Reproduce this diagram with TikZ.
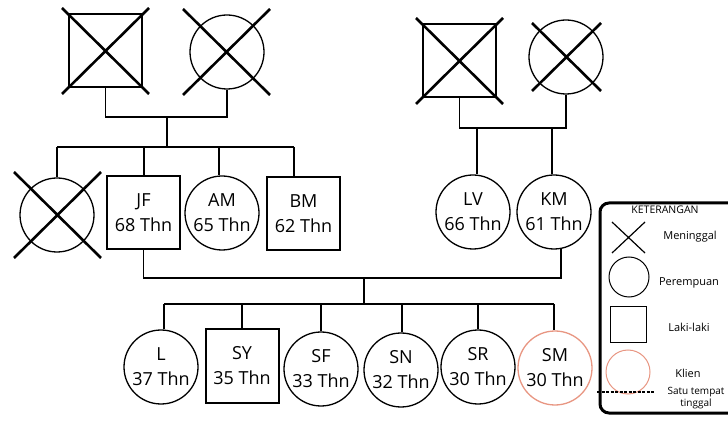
\documentclass[tikz,border=0pt]{standalone}
\usepackage{fontspec}
\setmainfont{Open Sans}
\definecolor{klien}{RGB}{232,150,130}
\begin{document}
\begin{tikzpicture}[x=1pt,y=-1pt,
  fem/.style={circle, draw, line width=1.3pt, minimum size=74pt, inner sep=0pt, align=center, font=\fontsize{18}{25}\selectfont},
  mal/.style={rectangle, draw, line width=2pt, minimum size=73pt, inner sep=0pt, align=center, font=\fontsize{18}{25}\selectfont},
  cl/.style={fem, draw=klien},
  xline/.style={line width=2.6pt},
  conn/.style={line width=1.4pt},
  lgtext/.style={font=\fontsize{11}{13}\selectfont, align=center, inner sep=0pt}]
\useasboundingbox (0,0) rectangle (728,427);
% generation 1
\node[mal] (gf1) at (105.5,51) {};
\node[fem] (gm1) at (227,52) {};
\node[mal] (gf2) at (459.5,61) {};
\node[fem] (gm2) at (566,57) {};
\draw[xline] (62,8) -- (149,94) (62,94) -- (149,8);
\draw[xline] (183,9) -- (270,95) (183,95) -- (270,9);
\draw[xline] (416,18) -- (503,104) (416,104) -- (503,18);
\draw[xline] (532,23) -- (601,91) (532,91) -- (601,23);
% generation 2
\node[fem] (d1) at (57,215) {};
\draw[xline] (14,172) -- (101,258) (14,258) -- (101,172);
\node[mal] (jf) at (143.5,213) {JF\\68 Thn};
\node[fem] (am) at (222,213) {AM\\65 Thn};
\node[mal] (bm) at (303.5,213.5) {BM\\62 Thn};
\node[fem] (lv) at (473,212) {LV\\66 Thn};
\node[fem] (km) at (554,212) {KM\\61 Thn};
% generation 3
\node[fem] (l) at (161,367) {L\\37 Thn};
\node[mal] (sy) at (242,366) {SY\\35 Thn};
\node[fem] (sf) at (321,369) {SF\\33 Thn};
\node[fem] (sn) at (401,370) {SN\\32 Thn};
\node[fem] (sr) at (478,367) {SR\\30 Thn};
\node[cl] (sm) at (555,368) {SM\\30 Thn};
% connectors family 1
\coordinate (c1) at (167,117);
\coordinate (s1) at (167,147);
\draw[conn] (gf1.south) |- (c1) -| (gm1.south);
\draw[conn] (c1) -- (s1);
\coordinate (b1) at (57,147);
\coordinate (b2) at (144,147);
\coordinate (b3) at (219,147);
\coordinate (b4) at (294,147);
\draw[conn] (b1) -- (b4);
\draw[conn] (b1) -- (b1 |- d1.north);
\draw[conn] (b2) -- (b2 |- jf.north);
\draw[conn] (b3) -- (b3 |- am.north);
\draw[conn] (b4) -- (b4 |- bm.north);
% connectors family 2
\coordinate (c2) at (477,128);
\coordinate (c3) at (552,128);
\draw[conn] (gf2.south) |- (c2) -- (c3) -| (gm2.south);
\draw[conn] (c2) -- (c2 |- lv.north);
\draw[conn] (c3) -- (c3 |- km.north);
% marriage JF - KM
\coordinate (m3) at (364,278);
\coordinate (s3) at (364,304);
\draw[conn] (jf.south) |- (m3) -| (km.-79);
\draw[conn] (m3) -- (s3);
\coordinate (k1) at (164,304);
\coordinate (k2) at (242,304);
\coordinate (k3) at (321,304);
\coordinate (k4) at (402,304);
\coordinate (k5) at (478,304);
\coordinate (k6) at (554,304);
\draw[conn] (k1) -- (k6);
\draw[conn] (k1) -- (k1 |- l.north);
\draw[conn] (k2) -- (k2 |- sy.north);
\draw[conn] (k3) -- (k3 |- sf.north);
\draw[conn] (k4) -- (k4 |- sn.north);
\draw[conn] (k5) -- (k5 |- sr.north);
\draw[conn] (k6) -- (k6 |- sm.north);
% legend
\node[draw, line width=3pt, rounded corners=9pt, minimum width=145pt, minimum height=210pt, inner sep=0pt] (leg) at (672.5,308) {};
\node[lgtext, font=\fontsize{10.5}{12}\selectfont] (lgt) at (665,210) {KETERANGAN};
\coordinate (lx1) at (612,222);
\coordinate (lx2) at (645,253);
\draw[line width=1.2pt] (lx1) -- (lx2) (lx1 |- lx2) -- (lx2 |- lx1);
\node[lgtext] (lmen) at (690,237) {Meninggal};
\node[circle, draw, line width=1pt, minimum size=40pt, inner sep=0pt] (lcir) at (629,277) {};
\node[lgtext] (lper) at (689,283) {Perempuan};
\node[rectangle, draw, line width=1pt, minimum size=36pt, inner sep=0pt] (lsq) at (628.5,325) {};
\node[lgtext] (llak) at (689,327) {Laki-laki};
\node[circle, draw=klien, line width=1pt, minimum size=44pt, inner sep=0pt] (lkl) at (628,372) {};
\node[lgtext] (lkli) at (688,373) {Klien};
\coordinate (ld1) at (597,392);
\coordinate (ld2) at (655,392);
\draw[line width=1.2pt, dashed, dash pattern=on 3pt off 1.5pt] (ld1) -- (ld2);
\node[lgtext, font=\fontsize{10}{12.5}\selectfont] (lsat) at (696,398) {Satu tempat\\tinggal};
\end{tikzpicture}
\end{document}
